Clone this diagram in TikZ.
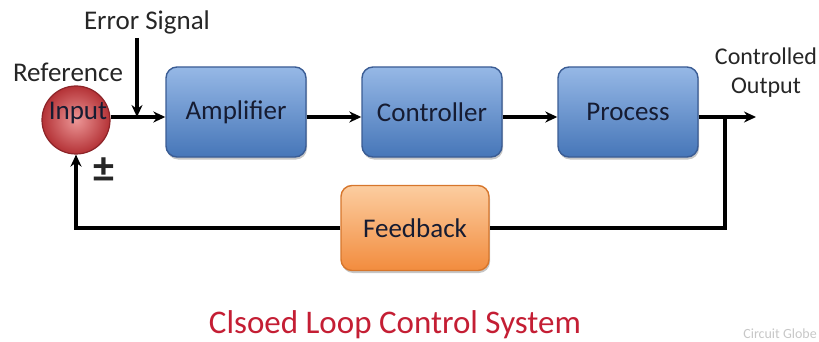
\documentclass[tikz,border=0pt]{standalone}
\usepackage{fontspec}
\setmainfont{Carlito}
\usetikzlibrary{arrows.meta,shadows}

\definecolor{blueTop}{RGB}{150,184,230}
\definecolor{blueBot}{RGB}{70,118,184}
\definecolor{blueEdge}{RGB}{58,92,148}
\definecolor{orTop}{RGB}{252,205,160}
\definecolor{orBot}{RGB}{242,140,62}
\definecolor{orEdge}{RGB}{214,118,44}
\definecolor{redIn}{RGB}{236,150,150}
\definecolor{redOut}{RGB}{180,50,54}
\definecolor{redEdge}{RGB}{140,36,40}
\definecolor{titleRed}{RGB}{196,30,52}
\definecolor{labelInk}{RGB}{22,28,50}

\tikzset{
  txt/.style={font=\fontsize{27}{30}\selectfont, text=black!85, inner sep=0pt},
  block/.style={rectangle, rounded corners=11pt, minimum width=140pt,
    minimum height=90pt, line width=1.4pt, font=\fontsize{27}{30}\selectfont,
    text=labelInk, drop shadow={shadow xshift=1pt, shadow yshift=-2.5pt, opacity=0.45}},
  blueblock/.style={block, top color=blueTop, bottom color=blueBot, draw=blueEdge},
  orblock/.style={block, top color=orTop, bottom color=orBot, draw=orEdge,
    minimum width=148pt, minimum height=85pt},
  flow/.style={line width=3.2pt, -{Stealth[length=12pt,width=11pt]}},
  wire/.style={line width=3.2pt}
}

\begin{document}
\begin{tikzpicture}[x=1pt,y=-1pt]
\useasboundingbox (0,0) rectangle (819,342);
\clip (0,0) rectangle (819,342);

% level of the forward path
\coordinate (lv) at (0,117);

% summing junction
\node[circle, minimum size=68pt, inner color=redIn, outer color=redOut,
      draw=redEdge, line width=1.2pt] (inp) at (76,120) {};
\node[txt, text=labelInk] (inptxt) at (78,113) {Input};
\node[txt] (ref) at (68,72) {Reference};
\node[txt, font=\fontsize{42}{44}\selectfont\bfseries] (pm) at (104,170) {±};

% error signal label and its arrow
\node[txt] (err) at (147,22) {Error Signal};
\coordinate (errtop) at (137,38);
\coordinate (errjoin) at (137,117);

% forward blocks
\node[blueblock] (amp)  at (236,112) {Amplifier};
\node[blueblock] (ctrl) at (432,112) {Controller};
\node[blueblock] (proc) at (628,112) {Process};

% feedback block
\node[orblock] (fb) at (415,228) {Feedback};

% output
\coordinate (jn) at (725,117);
\coordinate (out) at (756,117);
\node[txt, font=\fontsize{24}{29}\selectfont, align=center] (outlbl) at (766,73)
  {Controlled\\Output};

% connectors
\draw[flow] (inp.east |- lv) -- (amp.west |- lv);
\draw[flow] (errtop) -- (errjoin);
\draw[flow] (amp.east |- lv) -- (ctrl.west |- lv);
\draw[flow] (ctrl.east |- lv) -- (proc.west |- lv);
\draw[flow] (proc.east |- lv) -- (out);
\draw[wire] (jn) |- (fb.east);
\draw[flow] (fb.west) -| (inp.south);

% caption
\node[font=\fontsize{33}{36}\selectfont, text=titleRed] (title) at (395,325)
  {Clsoed Loop Control System};
\node[font=\fontsize{14}{16}\selectfont, text=black!22, anchor=east, inner sep=0pt]
  (mark) at (817,334) {Circuit Globe};
\end{tikzpicture}
\end{document}
